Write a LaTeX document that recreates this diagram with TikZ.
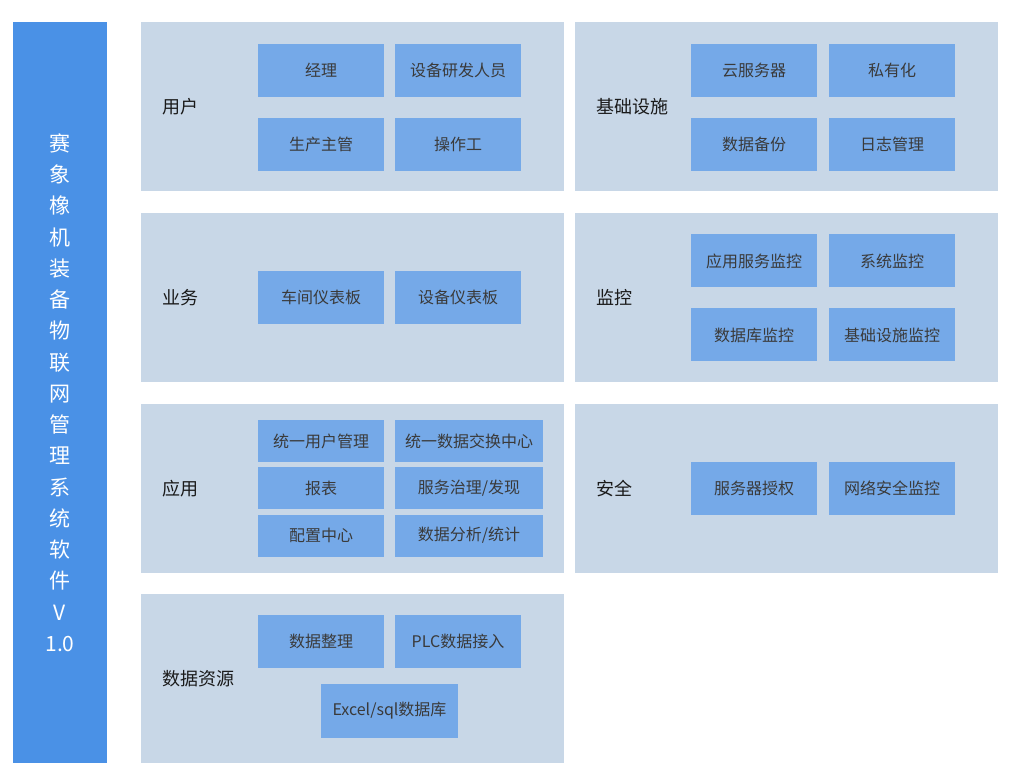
\documentclass[tikz,border=0pt]{standalone}
\usepackage{fontspec}
\setmainfont{Noto Sans CJK SC}
\definecolor{titleblue}{HTML}{4A91E6}
\definecolor{panelblue}{HTML}{C8D7E7}
\definecolor{itemblue}{HTML}{75A9E8}
\definecolor{itemtext}{HTML}{3A3A3A}
\definecolor{labeltext}{HTML}{1A1A1A}
\tikzset{
    % Title bar on the left
    title bar/.style={fill=titleblue, minimum width=94pt, minimum height=741pt, inner sep=0pt},
    title text/.style={text=white, align=center, font=\fontsize{21}{31.25}\selectfont},
    % Grey-blue layer panels
    panel/.style={fill=panelblue, minimum width=423pt, minimum height=169pt, inner sep=0pt},
    panel label/.style={anchor=west, inner sep=0pt, text=labeltext, font=\fontsize{18}{18}\selectfont},
    % Blue item boxes
    item/.style={fill=itemblue, minimum width=126pt, minimum height=53pt, inner sep=0pt,
        text=itemtext, font=\fontsize{16}{16}\selectfont},
    item short/.style={item, minimum height=42pt},
    item wide/.style={item short, minimum width=148pt},
}
\begin{document}
\begin{tikzpicture}[x=1pt, y=-1pt]
    \useasboundingbox (0,0) rectangle (1023,783);

    % Title
    \node[title bar] (title) at (60,392.5) {};
    \node[title text] (titletext) at (title.center)
        {赛\\象\\橡\\机\\装\\备\\物\\联\\网\\管\\理\\系\\统\\软\\件\\V\\1.0};

    % Panels
    \node[panel] (users) at (352.5,106.5) {};
    \node[panel] (infra) at (786.5,106.5) {};
    \node[panel] (business) at (352.5,297.5) {};
    \node[panel] (monitor) at (786.5,297.5) {};
    \node[panel] (apps) at (352.5,488.5) {};
    \node[panel] (security) at (786.5,488.5) {};
    \node[panel] (data) at (352.5,678.5) {};

    % Panel labels
    \node[panel label] (users label) at (162,107) {用户};
    \node[panel label] (infra label) at (596,107) {基础设施};
    \node[panel label] (business label) at (162,298) {业务};
    \node[panel label] (monitor label) at (596,298) {监控};
    \node[panel label] (apps label) at (162,489) {应用};
    \node[panel label] (security label) at (596,489) {安全};
    \node[panel label] (data label) at (162,679) {数据资源};

    % Users
    \node[item] (manager) at (321,70.5) {经理};
    \node[item] (developer) at (458,70.5) {设备研发人员};
    \node[item] (supervisor) at (321,144.5) {生产主管};
    \node[item] (operator) at (458,144.5) {操作工};

    % Infrastructure
    \node[item] (cloud) at (754,70.5) {云服务器};
    \node[item] (private) at (892,70.5) {私有化};
    \node[item] (backup) at (754,144.5) {数据备份};
    \node[item] (logs) at (892,144.5) {日志管理};

    % Business
    \node[item] (workshop) at (321,297.5) {车间仪表板};
    \node[item] (devboard) at (458,297.5) {设备仪表板};

    % Monitoring
    \node[item] (appmon) at (754,261) {应用服务监控};
    \node[item] (sysmon) at (892,261) {系统监控};
    \node[item] (dbmon) at (754,335) {数据库监控};
    \node[item] (inframon) at (892,335) {基础设施监控};

    % Applications
    \node[item short] (usermgmt) at (321,441) {统一用户管理};
    \node[item wide] (exchange) at (469,441) {统一数据交换中心};
    \node[item short] (reports) at (321,488) {报表};
    \node[item wide] (governance) at (469,488) {服务治理/发现};
    \node[item short] (config) at (321,535.5) {配置中心};
    \node[item wide] (analysis) at (469,535.5) {数据分析/统计};

    % Security
    \node[item] (auth) at (754,488) {服务器授权};
    \node[item] (netsec) at (892,488) {网络安全监控};

    % Data resources
    \node[item] (cleanup) at (321,641.5) {数据整理};
    \node[item] (plc) at (458,641.5) {PLC数据接入};
    \node[item, minimum width=137pt, minimum height=54pt] (database) at (389.5,711) {Excel/sql数据库};
\end{tikzpicture}
\end{document}
